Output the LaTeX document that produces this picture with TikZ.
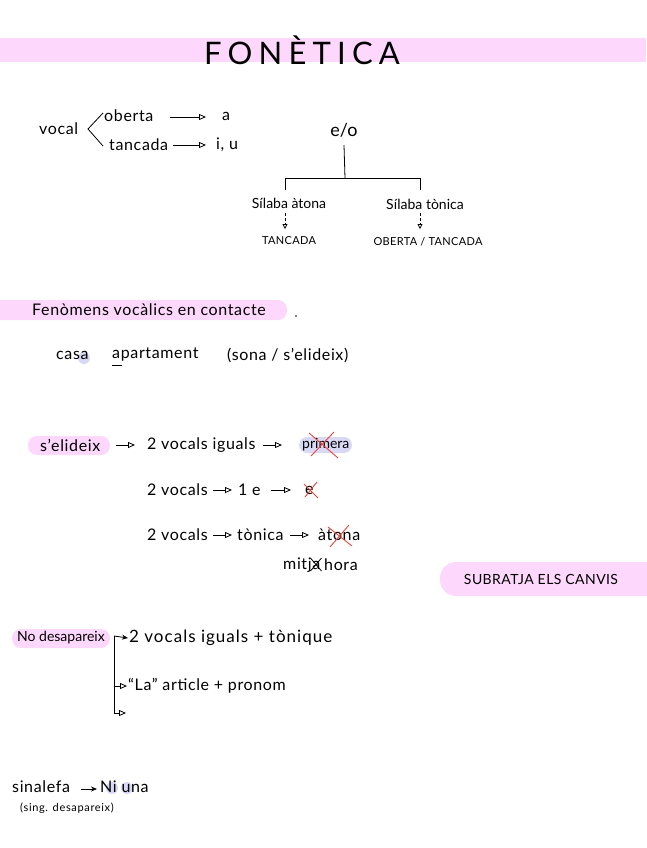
\documentclass[tikz,border=0pt]{standalone}
\usepackage{fontspec}
\setmainfont{Lato}
\usetikzlibrary{arrows.meta}
\definecolor{pinkhl}{HTML}{FDD8FC}
\definecolor{lav}{HTML}{D9D9F6}
\definecolor{xred}{HTML}{E8453C}
\tikzset{
  t/.style={inner sep=0pt, anchor=west, font=\fontsize{16}{18}\selectfont\addfontfeature{LetterSpace=4}},
  sm/.style={inner sep=0pt, font=\fontsize{11}{12}\selectfont\addfontfeature{LetterSpace=3}},
  arr/.style={line width=0.8pt, -{Triangle[open,length=7pt,width=6pt]}},
  farr/.style={line width=0.8pt, -{Stealth[length=6pt,width=5pt]}},
  ln/.style={line width=0.8pt},
  cross/.style={xred, line width=0.9pt},
}
\begin{document}
\begin{tikzpicture}[x=1pt,y=-1pt]
\useasboundingbox (0,0) rectangle (646,848);
% title
\fill[pinkhl] (0,38) rectangle (646,62);
\node[inner sep=0pt, font=\fontsize{31}{32}\selectfont\addfontfeature{LetterSpace=20}] (title) at (302,50) {FONÈTICA};

% vocal
\node[t] (vocal) at (39,129) {vocal};
\coordinate (bt) at (103,113);
\coordinate (bm) at (88,129);
\coordinate (bb) at (103,146);
\draw[ln] (bt) -- (bm) -- (bb);
\node[t] (oberta) at (104,116) {oberta};
\node[t] (a) at (222,116) {a};
\draw[arr] (170,117) -- (206,117);
\node[t] (tancada) at (109,145) {tancada};
\node[t] (iu) at (216,145) {i, u};
\draw[arr] (173,145) -- (206,145);

% e/o tree
\node[inner sep=0pt, font=\fontsize{18}{20}\selectfont] (eo) at (344,130) {e/o};
\coordinate (j) at (345,178);
\coordinate (jl) at (285,178);
\coordinate (jr) at (420,178);
\draw[ln] ([yshift=-8pt]eo.south) -- (j);
\draw[ln] ([yshift=-12pt]jl) -- (jl) -- (jr) -- ([yshift=-12pt]jr);
\node[inner sep=0pt, font=\fontsize{14}{16}\selectfont] (at) at (289,203) {Sílaba àtona};
\node[inner sep=0pt, font=\fontsize{14}{16}\selectfont] (ton) at (425,204) {Sílaba tònica};
\node[sm] (tc) at (289,241) {TANCADA};
\node[sm] (ot) at (428,242) {OBERTA / TANCADA};
\draw[ln, dash pattern=on 3pt off 2pt, -{Triangle[open,length=5pt,width=5pt]}] (285,213) -- (285,229);
\draw[ln, dash pattern=on 3pt off 2pt, -{Triangle[open,length=5pt,width=5pt]}] (420,213) -- (420,229);

% fenomens
\fill[pinkhl, rounded corners=9pt] (-12,300) rectangle (287,320);
\node[t] (fen) at (32,310) {Fenòmens vocàlics en contacte};
\fill (296,316) circle (0.8pt);

% casa apartament
\fill[lav] (84,358) circle (6pt);
\node[t] (casa) at (56,355) {casa};
\node[t] (apart) at (112,355) {apartament};
\draw[ln] (112,365) -- (122,365);
\node[t] (sona) at (227,355) {(sona / s'elideix)};

% s'elideix
\fill[pinkhl, rounded corners=9pt] (28,436) rectangle (110,455);
\node[t] (elid) at (40,445) {s'elideix};
\node[t] (v1) at (147,445) {2 vocals iguals};
\draw[arr] (116,445) -- (135,445);
\draw[arr] (263,445) -- (282,445);
\fill[lav, rounded corners=8pt] (299,437) rectangle (352,453);
\node[t, font=\fontsize{14}{16}\selectfont] (prim) at (302,445) {primera};
\draw[cross] (309,433) -- (338,458);
\draw[cross] (334,432) -- (311,456);

\node[t] (v2) at (147,490) {2 vocals};
\draw[arr] (213,490) -- (232,490);
\node[t] (e1) at (238,490) {1 e};
\draw[arr] (271,490) -- (291,490);
\node[t] (e2) at (305,490) {e};
\draw[cross] (304,484) -- (318,498);
\draw[cross] (317,482) -- (305,497);

\node[t] (v3) at (147,535) {2 vocals};
\draw[arr] (213,535) -- (232,535);
\node[t] (tonica) at (237,535) {tònica};
\draw[arr] (290,535) -- (309,535);
\node[t] (atona) at (318,535) {àtona};
\draw[cross] (328,527) -- (352,546);
\draw[cross] (349,525) -- (330,547);

\node[t] (mitja) at (283,565) {mitja};
\node[t] (hora) at (324,565) {hora};
\draw[ln] ([xshift=-10pt,yshift=7pt]mitja.east) -- ([xshift=1pt,yshift=-6pt]mitja.east);
\draw[ln] ([xshift=1pt,yshift=7pt]mitja.east) -- ([xshift=-10pt,yshift=-6pt]mitja.east);

% subratja
\fill[pinkhl, rounded corners=16pt] (440,562) rectangle (670,596);
\node[inner sep=0pt, font=\fontsize{14}{15}\selectfont\addfontfeature{LetterSpace=3}] (sub) at (541,579) {SUBRATJA ELS CANVIS};

% no desapareix
\fill[pinkhl, rounded corners=9pt] (12,629) rectangle (110,648);
\node[t, font=\fontsize{14}{16}\selectfont] (nodes) at (17,638) {No desapareix};
\coordinate (b0) at (114,636);
\coordinate (b1) at (114,686);
\coordinate (b2) at (114,713);
\node[t, font=\fontsize{17}{19}\selectfont\addfontfeature{LetterSpace=6}] (n1) at (129,638) {2 vocals iguals + tònique};
\node[t] (n2) at (128,686) {“La” article + pronom};
\coordinate (b3) at (126,713);
\draw[ln] (b2) -- (b0);
\draw[farr] (b0) -- ([xshift=-1pt]n1.west);
\draw[arr] (b1) -- ([xshift=-1pt]n2.west);
\draw[arr] (b2) -- (b3);

% sinalefa
\fill[lav] (112,788) circle (6pt);
\fill[lav] (127,788) circle (6pt);
\node[t] (sin) at (12,787) {sinalefa};
\draw[farr] (81,789) -- (97,789);
\node[t] (ni) at (100,787) {Ni una};
\node[sm, anchor=west, font=\fontsize{11}{12}\selectfont\addfontfeature{LetterSpace=6}] (sing) at (20,808) {(sing. desapareix)};
\end{tikzpicture}
\end{document}
